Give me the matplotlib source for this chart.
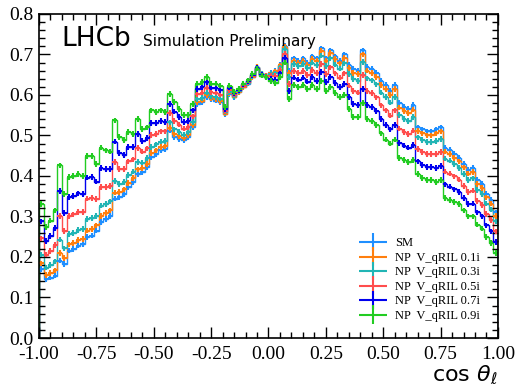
import matplotlib
matplotlib.use("Agg")
import matplotlib.pyplot as plt
from matplotlib.container import ErrorbarContainer
from matplotlib.legend_handler import HandlerErrorbar
import numpy as np

# 100 bins in cos(theta_l)
edges = np.linspace(-1.0, 1.0, 101)
centers = 0.5 * (edges[:-1] + edges[1:])

labels = ["SM", "NP  V_qRIL 0.1i", "NP  V_qRIL 0.3i", "NP  V_qRIL 0.5i",
          "NP  V_qRIL 0.7i", "NP  V_qRIL 0.9i"]
colors = ["#1f8fff", "#ff7f0e", "#22b5b5", "#ff4d4d", "#0000ee", "#22cc22"]

sm = [0.171, 0.146, 0.149, 0.154, 0.191, 0.183, 0.216, 0.220, 0.228, 0.232,
      0.249, 0.253, 0.265, 0.286, 0.294, 0.302, 0.344, 0.348, 0.356, 0.372,
      0.385, 0.405, 0.410, 0.422, 0.447, 0.455, 0.463, 0.467, 0.512, 0.496,
      0.492, 0.488, 0.496, 0.520, 0.578, 0.582, 0.595, 0.590, 0.586, 0.582,
      0.553, 0.603, 0.595, 0.607, 0.619, 0.628, 0.644, 0.669, 0.652, 0.648,
      0.655, 0.660, 0.675, 0.722, 0.660, 0.690, 0.685, 0.690, 0.680, 0.695,
      0.690, 0.715, 0.690, 0.710, 0.695, 0.685, 0.700, 0.675, 0.665, 0.660,
      0.710, 0.670, 0.665, 0.655, 0.635, 0.625, 0.610, 0.625, 0.580, 0.570,
      0.565, 0.575, 0.520, 0.515, 0.510, 0.510, 0.515, 0.520, 0.470, 0.465,
      0.455, 0.445, 0.430, 0.415, 0.420, 0.390, 0.380, 0.355, 0.340, 0.310]

np01 = [0.184, 0.156, 0.160, 0.167, 0.210, 0.197, 0.231, 0.234, 0.242, 0.245,
        0.265, 0.269, 0.278, 0.301, 0.308, 0.315, 0.359, 0.360, 0.367, 0.383,
        0.395, 0.416, 0.419, 0.430, 0.456, 0.463, 0.471, 0.474, 0.519, 0.503,
        0.498, 0.493, 0.500, 0.525, 0.582, 0.586, 0.599, 0.593, 0.589, 0.585,
        0.554, 0.605, 0.596, 0.608, 0.620, 0.629, 0.645, 0.669, 0.652, 0.648,
        0.653, 0.658, 0.673, 0.719, 0.654, 0.685, 0.680, 0.685, 0.675, 0.689,
        0.684, 0.709, 0.684, 0.703, 0.688, 0.678, 0.692, 0.666, 0.655, 0.651,
        0.700, 0.660, 0.655, 0.645, 0.625, 0.614, 0.600, 0.614, 0.569, 0.560,
        0.555, 0.564, 0.511, 0.505, 0.500, 0.500, 0.505, 0.510, 0.460, 0.455,
        0.445, 0.436, 0.421, 0.406, 0.410, 0.381, 0.371, 0.347, 0.332, 0.302]

np03 = [0.206, 0.174, 0.180, 0.189, 0.243, 0.221, 0.256, 0.260, 0.267, 0.269,
        0.293, 0.296, 0.301, 0.327, 0.331, 0.337, 0.387, 0.381, 0.385, 0.402,
        0.411, 0.435, 0.433, 0.444, 0.472, 0.478, 0.485, 0.487, 0.532, 0.515,
        0.508, 0.502, 0.508, 0.533, 0.589, 0.593, 0.606, 0.598, 0.595, 0.591,
        0.557, 0.607, 0.598, 0.609, 0.621, 0.630, 0.646, 0.668, 0.651, 0.647,
        0.651, 0.653, 0.668, 0.713, 0.645, 0.676, 0.671, 0.676, 0.666, 0.680,
        0.674, 0.697, 0.672, 0.690, 0.675, 0.665, 0.678, 0.651, 0.639, 0.635,
        0.681, 0.641, 0.636, 0.626, 0.606, 0.595, 0.581, 0.595, 0.550, 0.541,
        0.536, 0.545, 0.495, 0.489, 0.484, 0.484, 0.486, 0.491, 0.443, 0.438,
        0.429, 0.420, 0.405, 0.390, 0.394, 0.366, 0.356, 0.332, 0.317, 0.288]

np05 = [0.246, 0.206, 0.215, 0.230, 0.302, 0.264, 0.301, 0.305, 0.311, 0.311,
        0.344, 0.346, 0.343, 0.373, 0.373, 0.376, 0.435, 0.418, 0.418, 0.436,
        0.441, 0.469, 0.460, 0.468, 0.501, 0.503, 0.510, 0.510, 0.555, 0.536,
        0.527, 0.517, 0.521, 0.547, 0.602, 0.606, 0.618, 0.608, 0.606, 0.601,
        0.561, 0.612, 0.601, 0.611, 0.623, 0.632, 0.648, 0.667, 0.650, 0.646,
        0.646, 0.646, 0.661, 0.702, 0.627, 0.659, 0.654, 0.659, 0.649, 0.662,
        0.655, 0.677, 0.652, 0.668, 0.653, 0.643, 0.653, 0.623, 0.609, 0.606,
        0.649, 0.609, 0.604, 0.594, 0.574, 0.562, 0.549, 0.562, 0.517, 0.509,
        0.504, 0.512, 0.466, 0.459, 0.454, 0.454, 0.454, 0.459, 0.411, 0.406,
        0.399, 0.391, 0.376, 0.361, 0.364, 0.338, 0.328, 0.306, 0.291, 0.263]

np07 = [0.288, 0.239, 0.252, 0.272, 0.363, 0.309, 0.348, 0.351, 0.357, 0.355,
        0.396, 0.397, 0.386, 0.420, 0.417, 0.417, 0.485, 0.456, 0.452, 0.471,
        0.472, 0.504, 0.487, 0.494, 0.531, 0.530, 0.535, 0.533, 0.578, 0.559,
        0.546, 0.533, 0.535, 0.562, 0.615, 0.619, 0.631, 0.618, 0.617, 0.612,
        0.565, 0.618, 0.604, 0.613, 0.626, 0.634, 0.650, 0.666, 0.649, 0.645,
        0.640, 0.638, 0.653, 0.691, 0.609, 0.643, 0.638, 0.643, 0.633, 0.644,
        0.635, 0.657, 0.632, 0.644, 0.629, 0.619, 0.627, 0.595, 0.577, 0.576,
        0.615, 0.575, 0.570, 0.560, 0.540, 0.526, 0.515, 0.526, 0.481, 0.475,
        0.470, 0.476, 0.436, 0.427, 0.422, 0.422, 0.420, 0.425, 0.379, 0.374,
        0.367, 0.361, 0.346, 0.331, 0.332, 0.310, 0.300, 0.278, 0.263, 0.237]

np09 = [0.331, 0.274, 0.290, 0.315, 0.426, 0.356, 0.397, 0.400, 0.405, 0.400,
        0.450, 0.450, 0.430, 0.470, 0.463, 0.460, 0.537, 0.496, 0.488, 0.508,
        0.504, 0.541, 0.516, 0.520, 0.562, 0.558, 0.562, 0.558, 0.603, 0.582,
        0.566, 0.550, 0.550, 0.578, 0.628, 0.632, 0.644, 0.628, 0.628, 0.623,
        0.570, 0.623, 0.607, 0.615, 0.628, 0.636, 0.652, 0.665, 0.648, 0.644,
        0.635, 0.630, 0.645, 0.680, 0.590, 0.625, 0.620, 0.625, 0.615, 0.625,
        0.615, 0.635, 0.610, 0.620, 0.605, 0.595, 0.600, 0.565, 0.545, 0.545,
        0.580, 0.540, 0.535, 0.525, 0.505, 0.490, 0.480, 0.490, 0.445, 0.440,
        0.435, 0.440, 0.405, 0.395, 0.390, 0.390, 0.385, 0.390, 0.345, 0.340,
        0.335, 0.330, 0.315, 0.300, 0.300, 0.280, 0.270, 0.250, 0.235, 0.210]

series = [sm, np01, np03, np05, np07, np09]
yerr = 0.007

plt.rcParams["font.family"] = ["Liberation Serif", "DejaVu Serif"]
plt.rcParams["mathtext.fontset"] = "dejavusans"

fig = plt.figure(figsize=(5.17, 3.87), dpi=100)
ax = fig.add_axes([0.0754, 0.1266, 0.8878, 0.8374])

for vals, col, lab in zip(series, colors, labels):
    ax.stairs(vals, edges, color=col, lw=1.0)
    ax.errorbar(centers, vals, xerr=0.01, yerr=yerr, fmt="none",
                ecolor=col, elinewidth=1.5, label=lab)

ax.set_xlim(-1, 1)
ax.set_ylim(0, 0.8)
ax.set_xticks(np.arange(-1, 1.01, 0.25))
ax.set_xticks(np.arange(-1, 1.001, 0.05), minor=True)
ax.set_yticks(np.arange(0, 0.81, 0.1))
ax.set_yticks(np.arange(0, 0.801, 0.02), minor=True)
ax.xaxis.set_major_formatter(matplotlib.ticker.FormatStrFormatter("%.2f"))
ax.yaxis.set_major_formatter(matplotlib.ticker.FormatStrFormatter("%.1f"))
ax.tick_params(which="both", direction="in", top=True, right=True, labelsize=14)
ax.tick_params(which="major", length=8, width=1)
ax.tick_params(which="minor", length=4, width=1)
ax.tick_params(axis="x", pad=6)
ax.tick_params(axis="y", pad=4)
for s in ax.spines.values():
    s.set_linewidth(1.2)

ax.text(0.048, 0.90, "LHCb", transform=ax.transAxes, fontsize=19,
        family="DejaVu Sans", va="baseline")
ax.text(0.226, 0.90, "Simulation Preliminary", transform=ax.transAxes,
        fontsize=11, family="DejaVu Sans", va="baseline")

ax.set_xlabel(r"$\cos\,\theta_\ell$", fontsize=16, loc="right", labelpad=0)

ax.legend(loc="lower right", bbox_to_anchor=(0.985, 0.015), frameon=False,
          fontsize=9, handlelength=2.3, labelspacing=0.2, handletextpad=0.6,
          handler_map={ErrorbarContainer: HandlerErrorbar(xerr_size=1.1, yerr_size=0.75)})

fig.savefig("out.png", dpi=100)
